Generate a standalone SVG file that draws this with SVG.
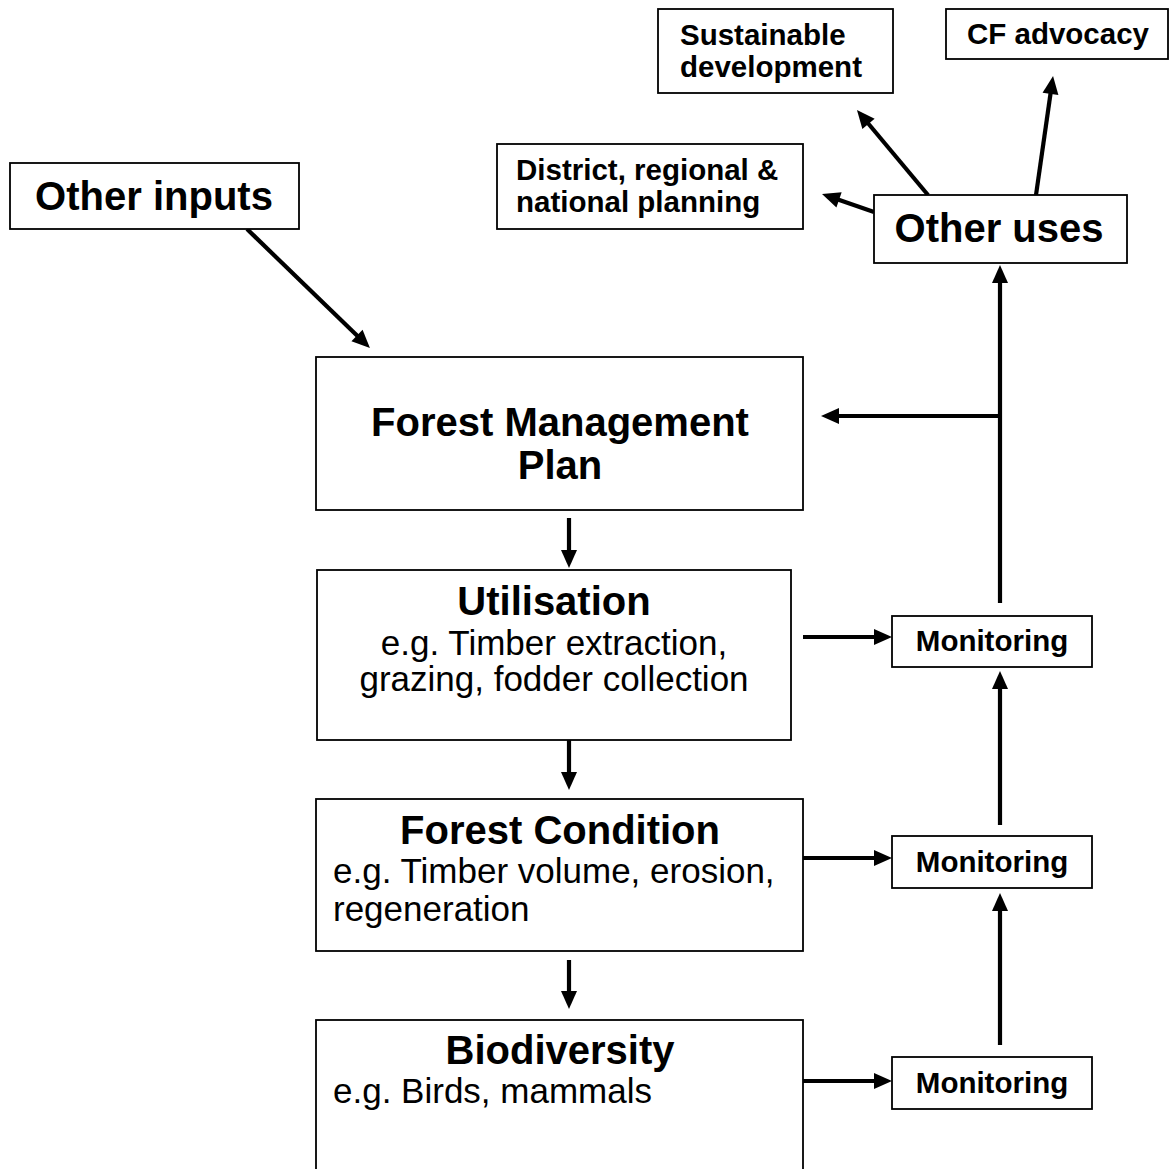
<svg xmlns="http://www.w3.org/2000/svg" width="1175" height="1169" viewBox="0 0 1175 1169">
  <defs>
    <style>
      .box { fill: #ffffff; stroke: #000000; stroke-width: 1.8; }
      .big { font-family: "Liberation Sans", Arial, sans-serif; font-weight: bold; font-size: 40px; fill: #000; }
      .small { font-family: "Liberation Sans", Arial, sans-serif; font-weight: bold; font-size: 29.5px; fill: #000; }
      .reg { font-family: "Liberation Sans", Arial, sans-serif; font-size: 35px; fill: #000; }
      .mid { text-anchor: middle; }
      .conn { stroke: #000000; stroke-width: 4.2; fill: none; marker-end: url(#arrow); }
    </style>
    <marker id="arrow" markerUnits="userSpaceOnUse" markerWidth="18" markerHeight="16" refX="5" refY="8" orient="auto" overflow="visible">
      <path d="M0,0 L18,8 L0,16 z" fill="#000000"/>
    </marker>
  </defs>
  <rect width="1175" height="1169" fill="#ffffff"/>

  <g id="connectors">
    <line class="conn" x1="247" y1="229" x2="360.6" y2="339"/>
    <line class="conn" x1="874" y1="212" x2="834.3" y2="198.3"/>
    <line class="conn" x1="928" y1="195" x2="865.3" y2="120"/>
    <line class="conn" x1="1036" y1="195" x2="1051.2" y2="88.9"/>
    <line class="conn" x1="569" y1="518" x2="569" y2="555"/>
    <line class="conn" x1="569" y1="740" x2="569" y2="777"/>
    <line class="conn" x1="569" y1="960" x2="569" y2="996"/>
    <line class="conn" x1="803" y1="637" x2="879" y2="637"/>
    <line class="conn" x1="803" y1="858" x2="879" y2="858"/>
    <line class="conn" x1="803" y1="1081" x2="879" y2="1081"/>
    <line class="conn" x1="1000" y1="1045" x2="1000" y2="906"/>
    <line class="conn" x1="1000" y1="825" x2="1000" y2="684"/>
    <line class="conn" x1="1000" y1="603" x2="1000" y2="278"/>
    <line class="conn" x1="1002" y1="416" x2="834" y2="416"/>
  </g>

  <g id="sustainable">
    <rect class="box" x="658" y="9" width="235" height="84"/>
    <text class="small" x="680" y="45">Sustainable</text>
    <text class="small" x="680" y="77">development</text>
  </g>
  <g id="cf-advocacy">
    <rect class="box" x="946" y="9" width="222" height="50"/>
    <text class="small" x="967" y="44">CF advocacy</text>
  </g>
  <g id="district">
    <rect class="box" x="497" y="144" width="306" height="85"/>
    <text class="small" x="516" y="180">District, regional &amp;</text>
    <text class="small" x="516" y="212">national planning</text>
  </g>
  <g id="other-uses">
    <rect class="box" x="874" y="195" width="253" height="68"/>
    <text class="big mid" x="999" y="242">Other uses</text>
  </g>
  <g id="other-inputs">
    <rect class="box" x="10" y="163" width="289" height="66"/>
    <text class="big mid" x="154" y="210">Other inputs</text>
  </g>
  <g id="fmp">
    <rect class="box" x="316" y="357" width="487" height="153"/>
    <text class="big mid" x="560" y="436">Forest Management</text>
    <text class="big mid" x="560" y="479">Plan</text>
  </g>
  <g id="utilisation">
    <rect class="box" x="317" y="570" width="474" height="170"/>
    <text class="big mid" x="554" y="615">Utilisation</text>
    <text class="reg mid" x="554" y="655">e.g. Timber extraction,</text>
    <text class="reg mid" x="554" y="691">grazing, fodder collection</text>
  </g>
  <g id="forest-condition">
    <rect class="box" x="316" y="799" width="487" height="152"/>
    <text class="big mid" x="560" y="844">Forest Condition</text>
    <text class="reg" x="333" y="883">e.g. Timber volume, erosion,</text>
    <text class="reg" x="333" y="921">regeneration</text>
  </g>
  <g id="biodiversity">
    <rect class="box" x="316" y="1020" width="487" height="170"/>
    <text class="big mid" x="560" y="1064">Biodiversity</text>
    <text class="reg" x="333" y="1103">e.g. Birds, mammals</text>
  </g>
  <g id="monitoring-1">
    <rect class="box" x="892" y="616" width="200" height="51"/>
    <text class="small mid" x="992" y="651">Monitoring</text>
  </g>
  <g id="monitoring-2">
    <rect class="box" x="892" y="836" width="200" height="52"/>
    <text class="small mid" x="992" y="872">Monitoring</text>
  </g>
  <g id="monitoring-3">
    <rect class="box" x="892" y="1057" width="200" height="52"/>
    <text class="small mid" x="992" y="1093">Monitoring</text>
  </g>
</svg>
